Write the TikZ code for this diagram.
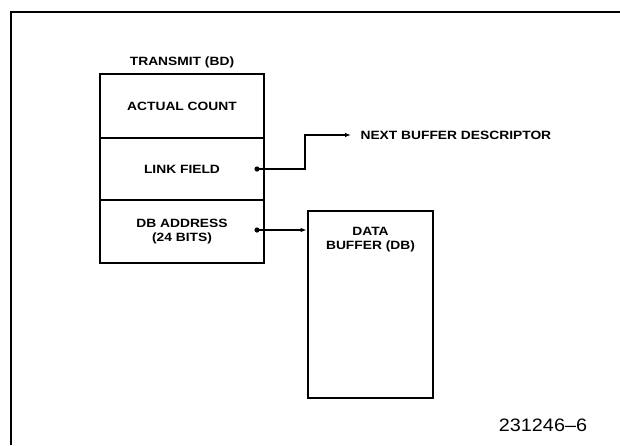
\documentclass[tikz,border=0pt]{standalone}
\usepackage{fontspec}
\setsansfont{Liberation Sans}
\newfontfamily\lblfont[FakeStretch=1.15]{Liberation Sans Bold}
\newfontfamily\numfont[FakeStretch=1.1, Ligatures=TeX]{Liberation Sans}
\usepackage{tikz}
\usetikzlibrary{arrows.meta, positioning}

\begin{document}
\begin{tikzpicture}[x=1pt, y=-1pt,
    every node/.style={font=\lblfont\fontsize{12}{14}\selectfont, align=center},
    field/.style={draw, line width=2.8pt, minimum width=164pt, inner sep=0pt},
    pointer/.style={line width=1.8pt, -{Latex[length=6pt, width=4.5pt]}}]
  \useasboundingbox (0,0) rectangle (620,445);

  % Outer frame (open to the right and bottom)
  \draw[line width=1.6pt] (11,445) -- (11,12) -- (620,12);

  % Transmit buffer descriptor
  \node (title) at (182,62) {TRANSMIT (BD)};
  \node[field, minimum height=64pt] (count) at (182,106) {ACTUAL COUNT};
  \node[field, minimum height=62pt] (link) at (182,169) {LINK FIELD};
  \node[field, minimum height=63pt] (dbaddr) at (182,231.5) {DB ADDRESS\\(24 BITS)};

  % Data buffer
  \node[field, minimum width=125pt, minimum height=187pt] (db) at (370.5,304.5) {};
  \node[anchor=north] (dbtext) at ([yshift=-14pt]db.north) {DATA\\BUFFER (DB)};

  % Link field pointer to next descriptor
  \coordinate (linkdot) at (257,169);
  \node[anchor=west] (next) at (357,135) {NEXT BUFFER DESCRIPTOR};
  \fill (linkdot) circle (2.6pt);
  \draw[pointer, shorten >=6pt] (linkdot) -- ++(48,0) |- (next.west);

  % Address pointer to data buffer
  \coordinate (dbdot) at (257,230);
  \fill (dbdot) circle (2.6pt);
  \draw[pointer] (dbdot) -- (dbdot -| db.west);

  % Figure number
  \node[font=\numfont\fontsize{18}{21}\selectfont] (fignum) at (543,425) {231246--6};
\end{tikzpicture}
\end{document}
